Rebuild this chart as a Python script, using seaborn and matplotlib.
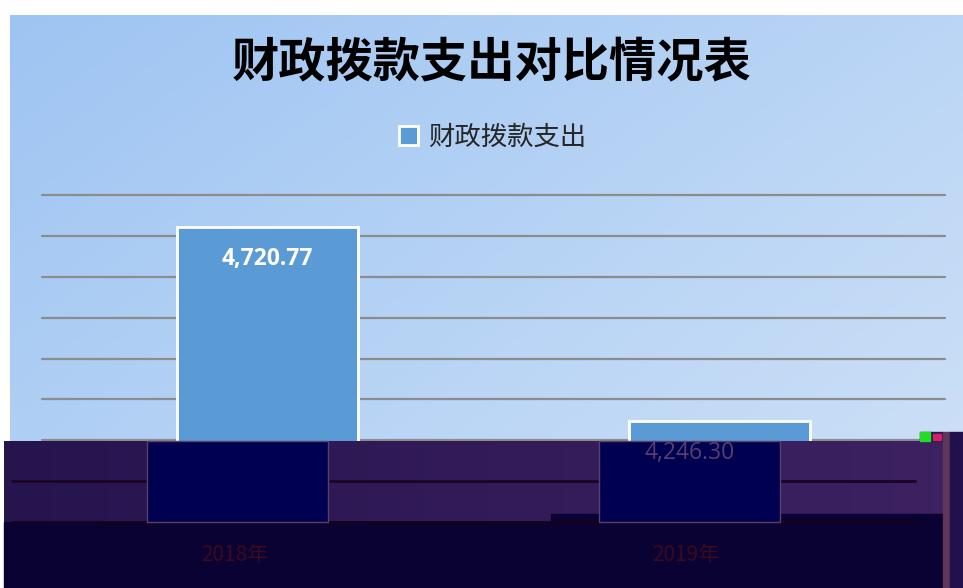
import matplotlib.pyplot as plt
import seaborn as sns
import pandas as pd
import numpy as np
from matplotlib.patches import Rectangle

# Chart data
years = ["2018年", "2019年"]
spending = [4720.77, 4246.30]
value_labels = ["4,720.77", "4,246.30"]
series_name = "财政拨款支出"
chart_title = "财政拨款支出对比情况表"
y_ticks = [4000, 4100, 4200, 4300, 4400, 4500, 4600, 4700, 4800]

# Figure size in pixels
W, H = 963, 588


# Draw a colour gradient into an axes
def gradient(ax, extent, c_left, c_right, diag = 0.0):
    gx, gy = np.meshgrid(np.linspace(0, 1, 200), np.linspace(0, 1, 200))
    t = np.clip((1 - diag) * gx + diag * gy, 0, 1)
    c0 = np.array(c_left)
    c1 = np.array(c_right)
    img = c0 + (c1 - c0) * t[..., None]
    ax.imshow(img, aspect = "auto", extent = extent, zorder = 0)


if __name__ == "__main__":

    sns.set_theme(style = "white")
    plt.rcParams["font.family"] = ["Noto Sans CJK SC", "DejaVu Sans"]

    fig = plt.figure(figsize = (W / 100, H / 100), dpi = 100)
    fig.patch.set_facecolor("white")

    # Light blue gradient chart background
    bg = fig.add_axes([10 / W, 0, 1 - 10 / W, 1 - 15 / H])
    gradient(bg, [0, 1, 1, 0], (0.62, 0.77, 0.95), (0.82, 0.89, 0.97), diag = 0.45)
    bg.set_xlim(0, 1)
    bg.set_ylim(1, 0)
    bg.axis("off")

    # Main plot area
    ax = fig.add_axes([42 / W, (H - 522) / H, (945 - 42) / W, (522 - 195) / H])
    ax.set_facecolor("none")
    df = pd.DataFrame({"year": years, "value": spending})
    sns.barplot(
        data = df,
        x = "year",
        y = "value",
        color = "#5b9bd5",
        saturation = 1,
        width = 0.4,
        edgecolor = "white",
        linewidth = 2,
        label = series_name,
        ax = ax,
        zorder = 3
    )
    if ax.get_legend() is not None:
        ax.get_legend().remove()
    ax.set_ylim(y_ticks[0], y_ticks[-1])
    ax.set_yticks(y_ticks)
    ax.yaxis.grid(True, color = "#8c8c8c", linewidth = 1.6)
    for gl in ax.get_ygridlines():
        gl.set_clip_on(False)
    ax.set_axisbelow(True)
    ax.tick_params(labelleft = False, labelbottom = False, length = 0)
    ax.set_xlabel("")
    ax.set_ylabel("")
    sns.despine(ax = ax, left = True, bottom = True)

    # Value label inside the first bar
    ax.annotate(
        value_labels[0], (0, spending[0]),
        xytext = (0, -32), textcoords = "offset pixels",
        ha = "center", va = "center",
        color = "white", fontsize = 16.5, fontweight = "bold",
        family = ["Open Sans", "DejaVu Sans"], zorder = 5
    )

    # Title and legend
    fig.text(492 / W, 1 - 62 / H, chart_title, fontsize = 34, fontweight = "bold",
             ha = "center", va = "center", color = "black")
    handles, labels = ax.get_legend_handles_labels()
    fig.legend(handles[:1], labels[:1], loc = "center", bbox_to_anchor = (493 / W, 1 - 137 / H),
               frameon = False, fontsize = 19, handlelength = 0.7, handleheight = 0.7,
               handletextpad = 0.4)

    # Dark overlay band covering the lower part of the image
    ov = fig.add_axes([0, 0, 1, 1], zorder = 10)
    ov.set_xlim(0, W)
    ov.set_ylim(H, 0)
    ov.axis("off")

    def to_px(x, y):
        dx, dy = ax.transData.transform((x, y))
        return dx, H - dy

    shift = -30
    gradient(ov, [4, 943, 522, 441], (0.15, 0.08, 0.31), (0.24, 0.13, 0.38))
    ov.add_patch(Rectangle((4, 522), 939, 66, color = "#0a0232", zorder = 1))
    ov.add_patch(Rectangle((551, 514), 392, 8, color = "#0a0232", zorder = 1))
    ov.add_patch(Rectangle((920, 432), 23, 9, color = "#2a1650", zorder = 1))
    ov.add_patch(Rectangle((943, 432), 7, 156, color = "#5e3458", zorder = 1))
    ov.add_patch(Rectangle((950, 432), 13, 156, color = "#22104c", zorder = 1))
    ov.add_patch(Rectangle((920, 432), 10, 9, color = "#22dd22", zorder = 4))
    ov.add_patch(Rectangle((933, 434), 8, 6, color = "#d0206a", zorder = 4))

    # Shifted dark copies of gridlines, bars and labels
    x0, _ = to_px(-0.5, y_ticks[0])
    x1, _ = to_px(1.5, y_ticks[0])
    for v in y_ticks[1:3]:
        _, gy = to_px(0, v)
        if gy > 441:
            ov.plot([x0 + shift, x1 + shift], [gy, gy], color = "#1a0522", lw = 2, zorder = 2)
    _, base = to_px(0, y_ticks[0])
    ov.plot([x0 + shift, x1 + shift], [base, base], color = "#12031c", lw = 2, zorder = 2)

    for i, v in enumerate(spending):
        left, _ = to_px(i - 0.2, v)
        right, top = to_px(i + 0.2, v)
        ov.add_patch(Rectangle((left + shift, 441), right - left, base - 441,
                               facecolor = "#000050", edgecolor = "#5a4068", lw = 1, zorder = 3))
        cx, _ = to_px(i, v)
        ov.text(cx - 33, 555, years[i], ha = "center", va = "center",
                fontsize = 15, color = "#3a0a1e", zorder = 5)
        if top + 32 > 441:
            ov.text(cx + shift, top + 32, value_labels[i], ha = "center", va = "center",
                    fontsize = 16.5, color = "#5a3d6e", family = ["Open Sans", "DejaVu Sans"],
                    zorder = 5)

    plt.savefig("out.png", dpi = 100)
